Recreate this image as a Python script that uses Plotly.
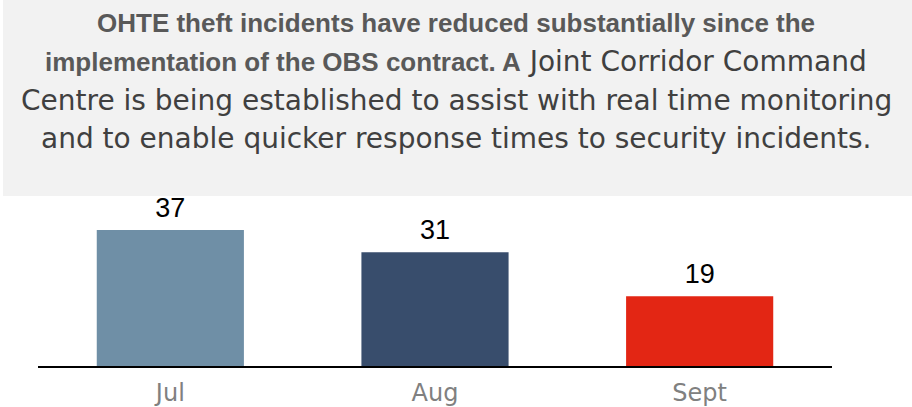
import plotly.graph_objects as go

months = ["Jul", "Aug", "Sept"]
incidents = [37, 31, 19]
bar_colors = ["#6f8fa6", "#384d6c", "#e32614"]

title_lines = [
    "<b>OHTE theft incidents have reduced substantially since the</b>",
    "<b>implementation of the OBS contract. A</b><span style='font-family:\"DejaVu Sans\";font-size:28px;fill:#404040'> Joint Corridor Command</span>",
    "Centre is being established to assist with real time monitoring",
    "and to enable quicker response times to security incidents.",
]

W, H = 912, 407
L, R, T, B = 38, 80, 200, 41
ph = H - T - B
pw = W - L - R

def py(p):
    return (H - B - p) / ph

def px(p):
    return (p - L) / pw

fig = go.Figure()
fig.add_trace(go.Bar(
    x=months, y=incidents, marker_color=bar_colors, marker_line_width=0,
    hoverinfo="skip", showlegend=False,
))
fig.add_trace(go.Scatter(
    x=months, y=incidents, mode="markers+text", text=[str(v) for v in incidents],
    textposition="top center",
    marker=dict(size=8, opacity=0),
    textfont=dict(family="Liberation Sans, Arial", size=27, color="#000000"),
    hoverinfo="skip", showlegend=False, cliponaxis=False,
))

fig.add_shape(type="rect", xref="paper", yref="paper",
              x0=px(3), x1=px(913), y0=py(196), y1=py(-2),
              fillcolor="#f2f2f2", line_width=0, layer="below")

centers = [22.5, 61, 100, 138.5]
fonts = [
    dict(family="Liberation Sans, Arial", size=26, color="#595959"),
    dict(family="Liberation Sans, Arial", size=26, color="#595959"),
    dict(family="DejaVu Sans", size=28, color="#404040"),
    dict(family="DejaVu Sans", size=28, color="#404040"),
]
for line, c, f in zip(title_lines, centers, fonts):
    fig.add_annotation(text=line, xref="paper", yref="paper", x=px(456), y=py(c),
                       xanchor="center", yanchor="middle", showarrow=False, font=f)

fig.update_layout(
    width=W, height=H,
    margin=dict(l=L, r=R, t=T, b=B, pad=0, autoexpand=False),
    paper_bgcolor="white", plot_bgcolor="white",
    bargap=0.444,
    xaxis=dict(showline=True, linecolor="#000000", linewidth=2, showgrid=False,
               automargin=False, ticklabelstandoff=4,
               tickfont=dict(family="DejaVu Sans", size=24, color="#808080"),
               ticks="", range=[-0.5, 2.5]),
    yaxis=dict(visible=False, range=[0, 45.2], showgrid=False, zeroline=False,
               automargin=False),
)

fig.write_html("out.html")
